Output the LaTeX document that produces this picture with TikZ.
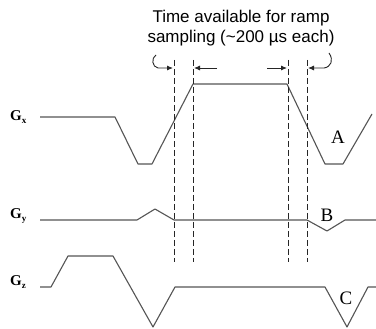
\documentclass[tikz,border=0pt]{standalone}
\usepackage{fontspec}
\setmainfont{Liberation Serif}
\newfontfamily\notefont{Liberation Sans}
\usepackage{tikz}
\usetikzlibrary{arrows.meta,calc,positioning}
\definecolor{wavegray}{RGB}{85,85,85}
\newcommand{\gradlbl}[1]{\fontsize{15}{15}\selectfont\bfseries G\raisebox{-3pt}{\fontsize{9}{9}\selectfont\bfseries #1}}

\begin{document}
\begin{tikzpicture}[x=1pt,y=-1pt,
    wave/.style={draw=wavegray,line width=1.1pt,line join=round},
    guide/.style={draw=black!85,line width=0.9pt,dash pattern=on 6pt off 3pt},
    span/.style={draw=black!85,line width=0.9pt,-{Latex[length=6pt,width=5pt]}},
    axlbl/.style={anchor=base west,inner sep=0pt},
    ramplbl/.style={inner sep=0pt,font=\fontsize{19}{19}\selectfont}]
    \useasboundingbox (0,0) rectangle (376,329);
    \fill[white] (0,0) rectangle (376,329);
    \node[axlbl] (gx) at (10,121) {\gradlbl{x}};
    \node[axlbl] (gy) at (10,219) {\gradlbl{y}};
    \node[axlbl] (gz) at (10,286) {\gradlbl{z}};
    \draw[wave] (40,117) -- (115,117) -- (138,164) -- (152,164) -- (193,84) -- (287,84)
        -- (325,164) -- (343,164) -- (372,114);
    \draw[wave] (40,220) -- (137,220) -- (155,209) -- (174,220) -- (307,220)
        -- (327,231) -- (345,220) -- (376,220);
    \draw[wave] (40,287) -- (51,287) -- (68,256) -- (113,256) -- (153,327) -- (175,287)
        -- (325,287) -- (347,327) -- (368,287) -- (376,287);
    \foreach \name/\xx in {d1/174,d2/193,d3/288,d4/307} {
        \coordinate (\name top) at (\xx,60);
        \coordinate (\name bot) at (\xx,262);
        \coordinate (\name mid) at (\xx,68);
        \draw[guide] (\name top) -- (\name bot);
    }
    \node[align=center,font=\notefont\fontsize{17}{20}\selectfont,inner sep=0pt] (note) at (241,28)
        {Time available for ramp\\sampling (\char`\~200 µs each)};
    \coordinate (s1) at (156,55);
    \coordinate (s2) at (217,68);
    \coordinate (s3) at (267,68);
    \coordinate (s4) at (329,53);
    \draw[span] (s1) .. controls (151,58) and (152,67) .. (158,68) -- ([xshift=-1pt]d1mid);
    \draw[span] (s2) -- ([xshift=1pt]d2mid);
    \draw[span] (s3) -- ([xshift=-1pt]d3mid);
    \draw[span] (s4) .. controls (334,60) and (331,67) .. (324,68) -- ([xshift=1pt]d4mid);
    \node[ramplbl] (ramp A) at (338,137) {A};
    \node[ramplbl] (ramp B) at (327,215) {B};
    \node[ramplbl] (ramp C) at (346,298) {C};
\end{tikzpicture}
\end{document}
